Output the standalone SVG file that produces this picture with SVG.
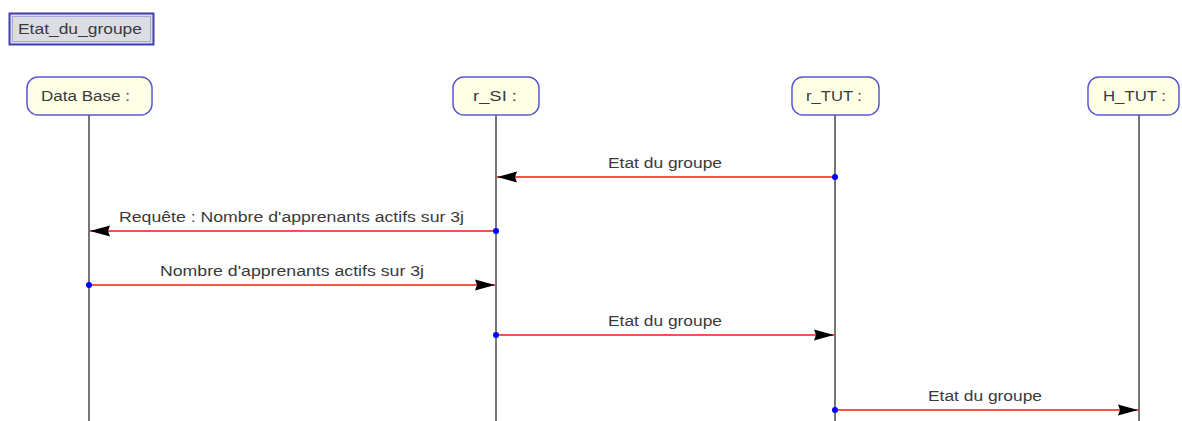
<svg xmlns="http://www.w3.org/2000/svg" width="1182" height="421" viewBox="0 0 1182 421">
<style>
text{font-family:"Liberation Sans",Arial,sans-serif;font-size:14px;fill:#3a3a3a}
.box{fill:#ffffe6;stroke:#5a5ad2;stroke-width:1.5}
.life{stroke:#484848;stroke-width:1.5;fill:none}
.msg{stroke:#ff5050;stroke-width:2;fill:none}
.dot{fill:#0000ff}
.lbl{text-anchor:middle}
</style>
<defs>
<marker id="ah" markerWidth="20" markerHeight="12" refX="20" refY="6" orient="auto" markerUnits="userSpaceOnUse">
<path d="M0,0.5 L20,6 L0,11.5 L2,6 Z" fill="#000"/>
</marker>
</defs>
<rect width="1182" height="421" fill="#fff"/>
<g id="title">
<rect x="9.5" y="13.5" width="144" height="31" fill="#dcdce4" stroke="#4040b0" stroke-width="2"/>
<rect x="12.5" y="16.5" width="138" height="25" fill="none" stroke="#a8a8d4" stroke-width="1"/>
<text x="18" y="34" textLength="124" lengthAdjust="spacingAndGlyphs">Etat_du_groupe</text>
</g>
<g id="lifelines">
<line class="life" x1="89" y1="115" x2="89" y2="421"/>
<line class="life" x1="496" y1="115" x2="496" y2="421"/>
<line class="life" x1="835" y1="115" x2="835" y2="421"/>
<line class="life" x1="1139" y1="115" x2="1139" y2="421"/>
</g>
<g id="node-database">
<rect class="box" x="27" y="77" width="125" height="38" rx="11"/>
<text class="lbl" x="85.5" y="101" textLength="89" lengthAdjust="spacingAndGlyphs">Data Base :</text>
</g>
<g id="node-rsi">
<rect class="box" x="453" y="77" width="86" height="38" rx="11"/>
<text class="lbl" x="495" y="101" textLength="44" lengthAdjust="spacingAndGlyphs">r_SI :</text>
</g>
<g id="node-rtut">
<rect class="box" x="792" y="77" width="87" height="38" rx="11"/>
<text class="lbl" x="834" y="101" textLength="56" lengthAdjust="spacingAndGlyphs">r_TUT :</text>
</g>
<g id="node-htut">
<rect class="box" x="1088" y="77" width="91" height="38" rx="11"/>
<text class="lbl" x="1134.5" y="101" textLength="63" lengthAdjust="spacingAndGlyphs">H_TUT :</text>
</g>
<g id="connectors">
<line class="msg" x1="835" y1="177" x2="497" y2="177" marker-end="url(#ah)"/>
<circle class="dot" cx="835" cy="177" r="3"/>
<text class="lbl" x="665" y="168" textLength="114" lengthAdjust="spacingAndGlyphs">Etat du groupe</text>

<line class="msg" x1="496" y1="231" x2="90" y2="231" marker-end="url(#ah)"/>
<circle class="dot" cx="496" cy="231" r="3"/>
<text class="lbl" x="291.5" y="222" textLength="345" lengthAdjust="spacingAndGlyphs">Requête : Nombre d'apprenants actifs sur 3j</text>

<line class="msg" x1="89" y1="285" x2="495" y2="285" marker-end="url(#ah)"/>
<circle class="dot" cx="89" cy="285" r="3"/>
<text class="lbl" x="292" y="276" textLength="264" lengthAdjust="spacingAndGlyphs">Nombre d'apprenants actifs sur 3j</text>

<line class="msg" x1="496" y1="335" x2="834" y2="335" marker-end="url(#ah)"/>
<circle class="dot" cx="496" cy="335" r="3"/>
<text class="lbl" x="665" y="326" textLength="114" lengthAdjust="spacingAndGlyphs">Etat du groupe</text>

<line class="msg" x1="835" y1="410" x2="1138" y2="410" marker-end="url(#ah)"/>
<circle class="dot" cx="835" cy="410" r="3"/>
<text class="lbl" x="985" y="401" textLength="114" lengthAdjust="spacingAndGlyphs">Etat du groupe</text>
</g>
</svg>
